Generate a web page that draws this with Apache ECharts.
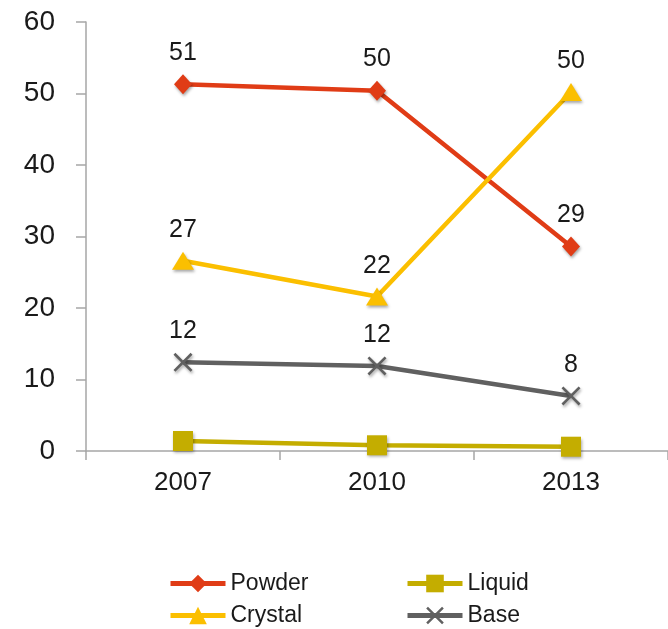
<!DOCTYPE html>
<html>
<head>
<meta charset="utf-8">
<script src="https://cdn.jsdelivr.net/npm/echarts@6/dist/echarts.min.js"></script>
<style>
  html, body { margin: 0; padding: 0; background: #ffffff; }
  #chart { width: 668px; height: 629px; }
</style>
</head>
<body>
<div id="chart"></div>
<script>
// Survey years on the category axis
var years = ['2007', '2010', '2013'];

// Share values per product form
var powder  = [51.3, 50.4, 28.6];
var liquid  = [1.4, 0.8, 0.6];
var crystal = [26.6, 21.6, 50.2];
var base    = [12.4, 11.9, 7.7];

// Value axis range
var yMin = 0, yMax = 60, yStep = 10;

var FONT = '"Liberation Sans", Arial, sans-serif';
var TEXT = '#1a1a1a';

// Filled "x" glyph used as the marker of the Base series
var crossPath = 'path://M0,1 L1,0 L5,4 L9,0 L10,1 L6,5 L10,9 L9,10 L5,6 L1,10 L0,9 L4,5 Z';

var markShadow = {
  shadowBlur: 3,
  shadowColor: 'rgba(0,0,0,0.35)',
  shadowOffsetX: 1,
  shadowOffsetY: 2
};

function valueLabel(show) {
  return {
    show: show,
    position: 'top',
    distance: 9,
    fontFamily: FONT,
    fontSize: 25,
    color: TEXT,
    formatter: function (p) { return Math.round(p.value); }
  };
}

function lineSeries(name, data, color, symbol, size, showLabel) {
  return {
    name: name,
    type: 'line',
    data: data,
    symbol: symbol,
    symbolSize: size,
    showAllSymbol: true,
    z: 3,
    lineStyle: { color: color, width: 4.5 },
    itemStyle: Object.assign({ color: color }, markShadow),
    label: valueLabel(showLabel),
    emphasis: { disabled: true }
  };
}

// One legend entry per block so the four entries sit in a 2x2 layout
function legendItem(name, left, top) {
  return {
    data: [name],
    left: left,
    top: top,
    itemWidth: 55,
    itemHeight: 22,
    itemGap: 0,
    padding: 0,
    lineStyle: { width: 5 },
    itemStyle: { shadowBlur: 0, shadowOffsetX: 0, shadowOffsetY: 0 },
    textStyle: { fontFamily: FONT, fontSize: 23, color: TEXT }
  };
}

var chart = echarts.init(document.getElementById('chart'), null, { renderer: 'canvas' });

chart.setOption({
  animation: false,
  backgroundColor: '#ffffff',
  grid: { left: 86, top: 22, right: -7, bottom: 178, containLabel: false },
  legend: [
    legendItem('Powder', 168, 572),
    legendItem('Crystal', 168, 604),
    legendItem('Liquid', 405, 572),
    legendItem('Base', 405, 604)
  ],
  xAxis: {
    type: 'category',
    data: years,
    boundaryGap: true,
    axisLine: { show: true, lineStyle: { color: '#a6a6a6', width: 1.5 } },
    axisTick: { show: true, length: 9, lineStyle: { color: '#a6a6a6', width: 1.5 } },
    axisLabel: { fontFamily: FONT, fontSize: 26, color: TEXT, margin: 19 },
    splitLine: { show: false }
  },
  yAxis: {
    type: 'value',
    min: yMin,
    max: yMax,
    interval: yStep,
    axisLine: { show: true, lineStyle: { color: '#a6a6a6', width: 1.5 } },
    axisTick: { show: true, length: 10, lineStyle: { color: '#a6a6a6', width: 1.5 } },
    axisLabel: { fontFamily: FONT, fontSize: 28, color: TEXT, margin: 31 },
    splitLine: { show: false }
  },
  series: [
    lineSeries('Powder', powder, '#e03c16', 'diamond', [18, 20], true),
    lineSeries('Liquid', liquid, '#c4ad00', 'rect', 20, false),
    lineSeries('Crystal', crystal, '#fbbf00', 'triangle', [22, 18], true),
    lineSeries('Base', base, '#606060', crossPath, 19, true)
  ]
});
</script>
</body>
</html>
